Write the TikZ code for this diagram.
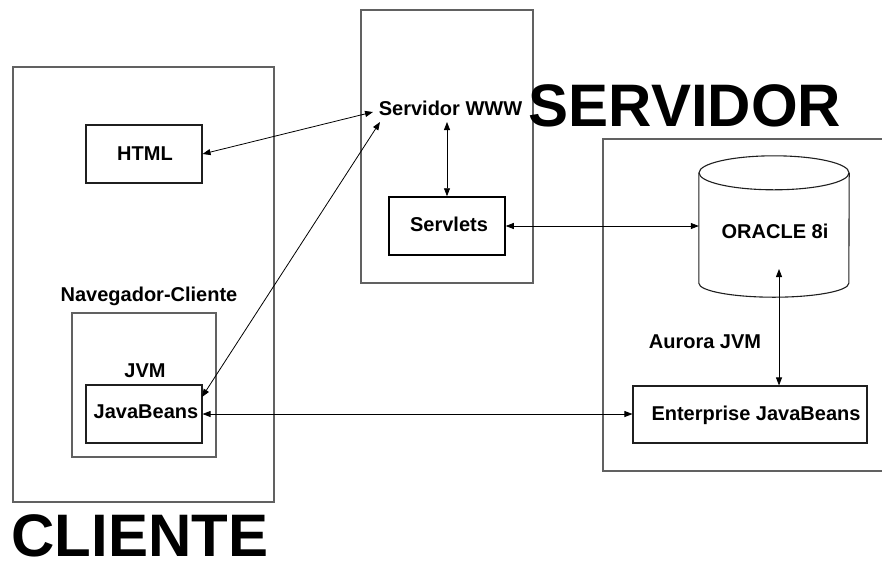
\documentclass[tikz,border=0pt]{standalone}
\usepackage{fontspec}
\setmainfont{Liberation Sans}
\usetikzlibrary{arrows.meta}
\begin{document}
\begin{tikzpicture}[x=1pt,y=-1pt,
  lbl/.style={font=\fontsize{20}{24}\selectfont\bfseries, inner sep=0pt, text height=14.4pt, text depth=0pt},
  big/.style={font=\fontsize{60}{72}\selectfont\bfseries, inner sep=0pt, text height=43pt, text depth=0pt},
  frame/.style={draw=black!62, line width=1.1pt},
  box/.style={draw=black!88, line width=1.1pt, inner sep=0pt},
  link/.style={draw=black, line width=0.8pt, {Triangle[length=8pt,width=6pt]}-{Triangle[length=8pt,width=6pt]}}]
\useasboundingbox (0,0) rectangle (882,563);

% container frames
\draw[frame] (13,67) rectangle (274,502);
\draw[frame] (72,313) rectangle (216,457);
\draw[frame] (361,10) rectangle (533,283);
\draw[frame] (882,139) -- (603,139) -- (603,471) -- (882,471);

% boxes
\node[box, minimum width=116pt, minimum height=58pt] (html) at (144,154) {};
\node[box, minimum width=116pt, minimum height=58pt] (jb) at (144,414) {};
\node[box, line width=1.5pt, draw=black, minimum width=116pt, minimum height=58pt] (servlets) at (447,226) {};
\node[box, minimum width=234pt, minimum height=57pt] (ejb) at (750,414.5) {};

% database cylinder
\node[inner sep=0pt, minimum width=150pt, minimum height=110pt] (oracle) at (774,228) {};
\draw[box] (oracle.north) ellipse [x radius=75pt, y radius=17pt];
\draw[box] (oracle.north west) -- (oracle.south west)
  arc[start angle=180, end angle=360, x radius=75pt, y radius=14pt] -- (oracle.north east);

% labels
\node[lbl] (thtml) at (145,153.5) {HTML};
\node[lbl] (tnav) at (149,294.5) {Navegador-Cliente};
\node[lbl] (tjvm) at (145,370.5) {JVM};
\node[lbl] (tjb) at (146,411.5) {JavaBeans};
\node[lbl] (www) at (450.5,108) {Servidor WWW};
\node[lbl] (tservlets) at (449,224.5) {Servlets};
\node[lbl] (toracle) at (775,231) {ORACLE 8i};
\node[lbl] (taurora) at (705,341) {Aurora JVM};
\node[lbl] (tejb) at (756,413.5) {Enterprise JavaBeans};
\node[big] (tservidor) at (685,104.5) {SERVIDOR};
\node[big] (tcliente) at (140,534.5) {CLIENTE};

% connector end points
\coordinate (wwwA) at (373,112);
\coordinate (wwwB) at (380,122);
\coordinate (wwwC) at (447,122);
\coordinate (jbA) at (202,397);
\coordinate (orabot) at (779,269);

% connectors
\draw[link] (html.east) -- (wwwA);
\draw[link] (jbA) -- (wwwB);
\draw[link] (wwwC) -- (servlets.north);
\draw[link] (servlets.east) -- (oracle.west |- servlets.east);
\draw[link] (orabot) -- (orabot |- ejb.north);
\draw[link] (jb.east) -- (ejb.west |- jb.east);
\end{tikzpicture}
\end{document}
